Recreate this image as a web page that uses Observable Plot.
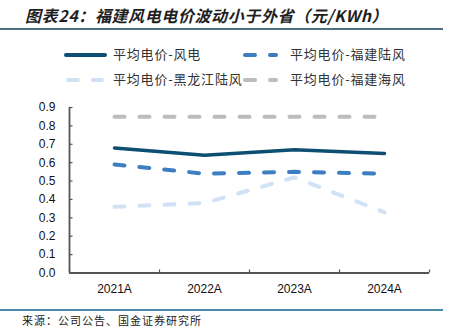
<!DOCTYPE html>
<html><head><meta charset="utf-8">
<script src="https://cdn.jsdelivr.net/npm/d3@7"></script>
<script src="https://cdn.jsdelivr.net/npm/@observablehq/plot@0.6"></script>
<style>
body{margin:0;width:451px;height:329px;position:relative;overflow:hidden;background:#fff;font-family:"Noto Sans CJK SC",sans-serif;}
#title{position:absolute;left:25px;top:4px;font-size:16px;line-height:22px;font-weight:bold;font-style:italic;color:#1f1f1f;letter-spacing:0.6px;white-space:nowrap}
#rule1{position:absolute;left:0;top:28px;width:443px;height:1.5px;background:#4e6e82}
#legend{position:absolute;left:0;top:0;width:451px;height:95px}
#chart{position:absolute;left:0;top:95px}
#rule2{position:absolute;left:0;top:309px;width:443px;height:1.5px;background:#4a8aa6}
#source{position:absolute;left:22px;top:313px;font-size:11px;line-height:14px;color:#222;letter-spacing:1px;white-space:nowrap}
.lg{position:absolute;font-size:13px;line-height:18px;color:#333;letter-spacing:0.8px;white-space:nowrap}
</style></head>
<body>
<div id="title">图表24：福建风电电价波动小于外省（元/KWh）</div>
<div id="rule1"></div>
<div id="legend"></div>
<div id="chart"></div>
<div id="rule2"></div>
<div id="source">来源：公司公告、国金证券研究所</div>
<script>
const years = ["2021A","2022A","2023A","2024A"];
const wind = [0.68, 0.64, 0.67, 0.65];
const fjOnshore = [0.59, 0.54, 0.55, 0.54];
const hljOnshore = [0.36, 0.38, 0.52, 0.33];
const fjOffshore = [0.85, 0.85, 0.85, 0.85];
const seriesNames = ["平均电价-风电","平均电价-福建陆风","平均电价-黑龙江陆风","平均电价-福建海风"];
const seriesValues = [wind, fjOnshore, hljOnshore, fjOffshore];
const seriesColors = ["#0c4f73","#3d7ec0","#d0e2f3","#bcbcbc"];
const seriesDash = [null, "10,15", "10,15", "10,15"];
const yTicks = [0,0.1,0.2,0.3,0.4,0.5,0.6,0.7,0.8,0.9];

const data = seriesNames.flatMap((s,i)=>years.map((y,j)=>({series:s, idx:j, year:y, value:seriesValues[i][j]})));

// legend
const legendPos = [
  {sx:64, sw:43, tx:113, y:55},
  {sx:243, sw:35, tx:290, y:55},
  {sx:66, sw:38, tx:113, y:80},
  {sx:243, sw:35, tx:290, y:80}
];
const lg = document.getElementById("legend");
let svgParts = "";
seriesNames.forEach((n,i)=>{
  const p = legendPos[i];
  svgParts += `<line x1="${p.sx+2}" x2="${p.sx+p.sw-2}" y1="${p.y}" y2="${p.y}" stroke="${seriesColors[i]}" stroke-width="4" stroke-linecap="round" ${seriesDash[i]?`stroke-dasharray="${seriesDash[i]}"`:""}/>`;
  const d = document.createElement("div");
  d.className = "lg"; d.textContent = n;
  d.style.left = p.tx + "px"; d.style.top = (p.y - 10) + "px";
  lg.appendChild(d);
});
lg.insertAdjacentHTML("afterbegin", `<svg width="451" height="95" style="position:absolute;left:0;top:0">${svgParts}</svg>`);

const lineMarks = seriesNames.map((s,i)=>Plot.line(data.filter(d=>d.series===s), {
  x:"idx", y:"value", stroke:seriesColors[i], strokeWidth: i===0?3.5:4,
  strokeDasharray: seriesDash[i] || undefined, strokeLinecap:"round", strokeLinejoin:"round"
}));

const chart = Plot.plot({
  width:451, height:205,
  marginLeft:69, marginRight:22, marginTop:12, marginBottom:27.5,
  x:{domain:[-0.5, 3.5]},
  y:{domain:[0, 0.9]},
  style:{fontFamily:"'Liberation Sans', Arial, sans-serif", fontSize:"12px", color:"#111", background:"transparent"},
  marks:[
    Plot.axisY({ticks:yTicks, tickFormat:d=>d.toFixed(1), tickSize:-3.5, tickPadding:17.5, stroke:"#555", strokeWidth:1.2, label:null}),
    Plot.axisX({ticks:[-0.5,0.5,1.5,2.5,3.5], tickSize:-3, tickFormat:()=>"", stroke:"#555", strokeWidth:1.2, label:null}),
    Plot.axisX({ticks:[0,1,2,3], tickSize:0, tickPadding:11, tickFormat:i=>years[i], label:null}),
    Plot.ruleX([-0.5], {stroke:"#555", strokeWidth:1.8}),
    Plot.ruleY([0], {stroke:"#555", strokeWidth:1.8}),
    ...lineMarks
  ]
});
document.getElementById("chart").appendChild(chart);
</script>
</body></html>
